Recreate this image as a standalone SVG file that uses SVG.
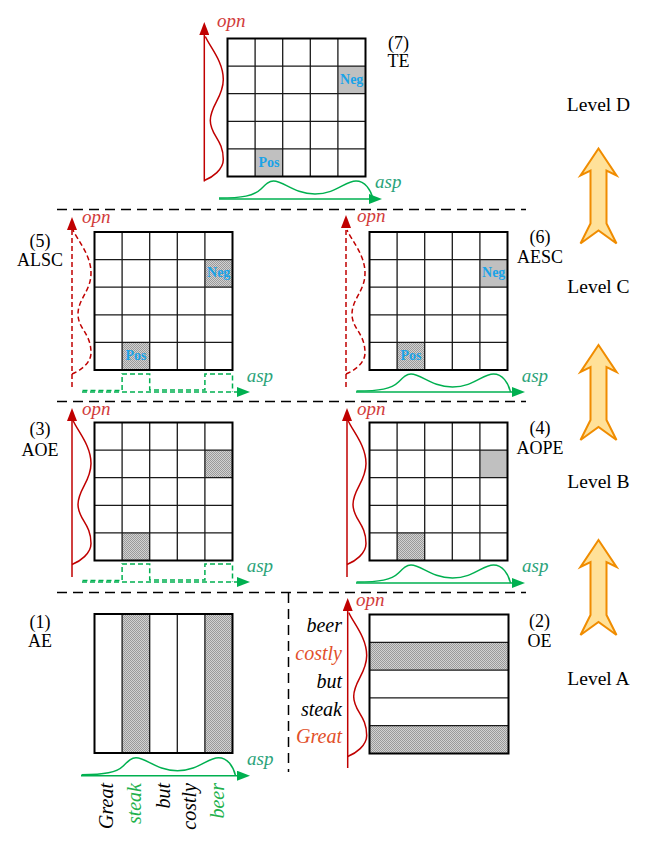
<svg xmlns="http://www.w3.org/2000/svg" xmlns:xlink="http://www.w3.org/1999/xlink" width="655" height="844" viewBox="0 0 655 844">
<style>
.lbl{font-family:"Liberation Serif","DejaVu Serif",serif;font-size:18px;fill:#000;text-anchor:middle}
.lvl{font-family:"Liberation Serif","DejaVu Serif",serif;font-size:19.5px;fill:#000;text-anchor:middle}
.word{font-family:"Liberation Serif","DejaVu Serif",serif;font-size:20px;font-style:italic;fill:#000}
.wg{fill:#22b14c}
.wr{fill:#e2502a}
.opn{font-family:"Liberation Serif","DejaVu Serif",serif;font-size:19px;font-style:italic;fill:#d23c3c}
.asp{font-family:"Liberation Serif","DejaVu Serif",serif;font-size:19px;font-style:italic;fill:#2ba37a}
.np{font-family:"Liberation Serif","DejaVu Serif",serif;font-size:14px;font-weight:bold;fill:#1aa3e8;text-anchor:middle}
.rs{stroke:#c00000;stroke-width:1.5;fill:none}
.rd{stroke:#c00000;stroke-width:1.5;fill:none;stroke-dasharray:5 3}
.gs{stroke:#00b050;stroke-width:1.5;fill:none}
.gd{stroke:#00b050;stroke-width:1.5;fill:none;stroke-dasharray:5 3}
.sep{stroke:#000;stroke-width:1.5;fill:none;stroke-dasharray:10 6}
.solid{fill:#c0c0c0}
.tex{fill:url(#dots)}
.box{fill:none;stroke:#000;stroke-width:2}
.in{fill:none;stroke:#1a1a1a;stroke-width:1.3}
.up{fill:#ffe199;stroke:#f08c00;stroke-width:2;stroke-linejoin:miter}
</style>
<defs>
<pattern id="dots" width="2" height="2" patternUnits="userSpaceOnUse">
<rect width="2" height="2" fill="#d2d2d2"/>
<rect width="1" height="1" fill="#9a9a9a"/>
<rect x="1" y="1" width="1" height="1" fill="#9a9a9a"/>
</pattern>
<marker id="ar" viewBox="0 0 13 10" refX="10" refY="5" markerWidth="13" markerHeight="10" markerUnits="userSpaceOnUse" orient="auto"><path d="M0,0 L13,5 L0,10 z" fill="#c00000"/></marker>
<marker id="ag" viewBox="0 0 13 10" refX="10" refY="5" markerWidth="13" markerHeight="10" markerUnits="userSpaceOnUse" orient="auto"><path d="M0,0 L13,5 L0,10 z" fill="#00b050"/></marker>
<g id="grid">
<path class="in" d="M27.6,0V138M55.2,0V138M82.8,0V138M110.4,0V138M0,27.6H138M0,55.2H138M0,82.8H138M0,110.4H138"/>
<rect class="box" width="138" height="138"/>
</g>
<path id="opnc" d="M0,142 C8,139 19,131 19,121 C19,101 6,97 6,82 C6,67 19,59 19,41 C19,23 6,9 1,-2"/>
<path id="aspc" d="M-13,-1 C10,-1 22,-3 29,-10 C34,-15 37,-18 41.5,-18 C52,-18 62,-5 83,-5 C104,-5 113,-18 124,-18 C133,-18 139,-9 141,0"/>
<path id="step" d="M-12,-1.5 H27.6 V-18 H55.2 V-2 H110.4 V-18 H138 V0"/>
<path id="uparrow" d="M0,0 L18,27 L8,22 L8,75 L18,95 L0,82 L-18,95 L-8,75 L-8,22 L-18,27 Z"/>
</defs>
<rect width="655" height="844" fill="#fff"/>

<g id="separators">
<path class="sep" d="M57,209.5H526M57,401.5H526M57,592.5H526M288.5,593V772"/>
</g>

<g id="n7">
<rect class="solid" x="337.9" y="66.1" width="27.6" height="27.6"/>
<rect class="solid" x="255.1" y="148.9" width="27.6" height="27.6"/>
<use href="#grid" x="227.5" y="38.5"/>
<text class="np" x="351.7" y="84">Neg</text>
<text class="np" x="268.9" y="167">Pos</text>
<line class="rs" x1="204.3" y1="181.5" x2="204.3" y2="25" marker-end="url(#ar)"/>
<use class="rs" href="#opnc" x="204.3" y="38.5"/>
<text class="opn" x="217" y="27">opn</text>
<line class="gs" x1="219" y1="199" x2="379" y2="199" marker-end="url(#ag)"/>
<use class="gs" href="#aspc" x="232" y="199"/>
<text class="asp" x="375" y="188">asp</text>
<text class="lbl" x="398.5" y="48.5">(7)</text>
<text class="lbl" x="398.5" y="67">TE</text>
</g>

<g id="n5">
<rect class="tex" x="204.9" y="259.6" width="27.6" height="27.6"/>
<rect class="tex" x="122.1" y="342.4" width="27.6" height="27.6"/>
<use href="#grid" x="94.5" y="232"/>
<text class="np" x="218.7" y="277">Neg</text>
<text class="np" x="135.9" y="360">Pos</text>
<line class="rd" x1="72" y1="387" x2="72" y2="220" marker-end="url(#ar)"/>
<use class="rd" href="#opnc" x="72" y="232"/>
<text class="opn" x="82" y="223">opn</text>
<line class="gd" x1="82" y1="392" x2="247" y2="392" marker-end="url(#ag)"/>
<use class="gd" href="#step" x="94.5" y="392"/>
<text class="asp" x="246.7" y="381.5">asp</text>
<text class="lbl" x="40" y="247">(5)</text>
<text class="lbl" x="40" y="266">ALSC</text>
</g>

<g id="n6">
<rect class="solid" x="479.9" y="259.6" width="27.6" height="27.6"/>
<rect class="tex" x="397.1" y="342.4" width="27.6" height="27.6"/>
<use href="#grid" x="369.5" y="232"/>
<text class="np" x="493.7" y="277">Neg</text>
<text class="np" x="410.9" y="360">Pos</text>
<line class="rd" x1="346" y1="387" x2="346" y2="218" marker-end="url(#ar)"/>
<use class="rd" href="#opnc" x="346" y="232"/>
<text class="opn" x="357" y="221.5">opn</text>
<line class="gs" x1="356" y1="392" x2="522" y2="392" marker-end="url(#ag)"/>
<use class="gs" href="#aspc" x="369.5" y="392"/>
<text class="asp" x="521.7" y="382">asp</text>
<text class="lbl" x="540" y="243">(6)</text>
<text class="lbl" x="540" y="263">AESC</text>
</g>

<g id="n3">
<rect class="tex" x="204.9" y="450.1" width="27.6" height="27.6"/>
<rect class="tex" x="122.1" y="532.9" width="27.6" height="27.6"/>
<use href="#grid" x="94.5" y="422.5"/>
<line class="rs" x1="72" y1="577" x2="72" y2="411" marker-end="url(#ar)"/>
<use class="rs" href="#opnc" x="72" y="422.5"/>
<text class="opn" x="82" y="415">opn</text>
<line class="gd" x1="82" y1="582" x2="247" y2="582" marker-end="url(#ag)"/>
<use class="gd" href="#step" x="94.5" y="582"/>
<text class="asp" x="246.7" y="571.5">asp</text>
<text class="lbl" x="40" y="435">(3)</text>
<text class="lbl" x="40" y="456">AOE</text>
</g>

<g id="n4">
<rect class="solid" x="479.9" y="450.1" width="27.6" height="27.6"/>
<rect class="tex" x="397.1" y="532.9" width="27.6" height="27.6"/>
<use href="#grid" x="369.5" y="422.5"/>
<line class="rs" x1="347" y1="577" x2="347" y2="411" marker-end="url(#ar)"/>
<use class="rs" href="#opnc" x="347" y="422.5"/>
<text class="opn" x="357" y="415">opn</text>
<line class="gs" x1="356" y1="583" x2="522" y2="583" marker-end="url(#ag)"/>
<use class="gs" href="#aspc" x="369.5" y="583"/>
<text class="asp" x="522" y="572">asp</text>
<text class="lbl" x="540" y="434">(4)</text>
<text class="lbl" x="540" y="454">AOPE</text>
</g>

<g id="n1">
<rect class="tex" x="122.1" y="614" width="27.6" height="139"/>
<rect class="tex" x="204.9" y="614" width="27.6" height="139"/>
<path class="in" d="M122.1,614V753M149.7,614V753M177.3,614V753M204.9,614V753"/>
<rect class="box" x="94.5" y="614" width="138" height="139"/>
<line class="gs" x1="81" y1="775.7" x2="247" y2="775.7" marker-end="url(#ag)"/>
<use class="gs" href="#aspc" x="94.5" y="775.7"/>
<text class="asp" x="247" y="765">asp</text>
<text class="word" transform="translate(113,783) rotate(-90)" text-anchor="end">Great</text>
<text class="word wg" transform="translate(141,783) rotate(-90)" text-anchor="end">steak</text>
<text class="word" transform="translate(169.5,783) rotate(-90)" text-anchor="end">but</text>
<text class="word" transform="translate(196,783) rotate(-90)" text-anchor="end">costly</text>
<text class="word wg" transform="translate(223.5,783) rotate(-90)" text-anchor="end">beer</text>
<text class="lbl" x="40" y="628">(1)</text>
<text class="lbl" x="40" y="647">AE</text>
</g>

<g id="n2">
<rect class="tex" x="369.5" y="642.3" width="139" height="27.8"/>
<rect class="tex" x="369.5" y="725.7" width="139" height="27.8"/>
<path class="in" d="M369.5,642.3H508.5M369.5,670.1H508.5M369.5,697.9H508.5M369.5,725.7H508.5"/>
<rect class="box" x="369.5" y="614.5" width="139" height="139"/>
<line class="rs" x1="347.7" y1="768" x2="347.7" y2="601" marker-end="url(#ar)"/>
<use class="rs" href="#opnc" x="347.7" y="614.5"/>
<text class="opn" x="356" y="606">opn</text>
<text class="word" x="342" y="632" text-anchor="end">beer</text>
<text class="word wr" x="342" y="660" text-anchor="end">costly</text>
<text class="word" x="342" y="688" text-anchor="end">but</text>
<text class="word" x="342" y="716" text-anchor="end">steak</text>
<text class="word wr" x="342" y="743" text-anchor="end">Great</text>
<text class="lbl" x="539.5" y="627">(2)</text>
<text class="lbl" x="539.5" y="647">OE</text>
</g>

<g id="levels">
<text class="lvl" x="598.5" y="111">Level D</text>
<text class="lvl" x="598.5" y="293">Level C</text>
<text class="lvl" x="598.5" y="488">Level B</text>
<text class="lvl" x="598.5" y="685">Level A</text>
</g>

<g id="connectors">
<use class="up" href="#uparrow" x="598.5" y="148.5"/>
<use class="up" href="#uparrow" x="598.5" y="345"/>
<use class="up" href="#uparrow" x="598.5" y="540"/>
</g>
</svg>
